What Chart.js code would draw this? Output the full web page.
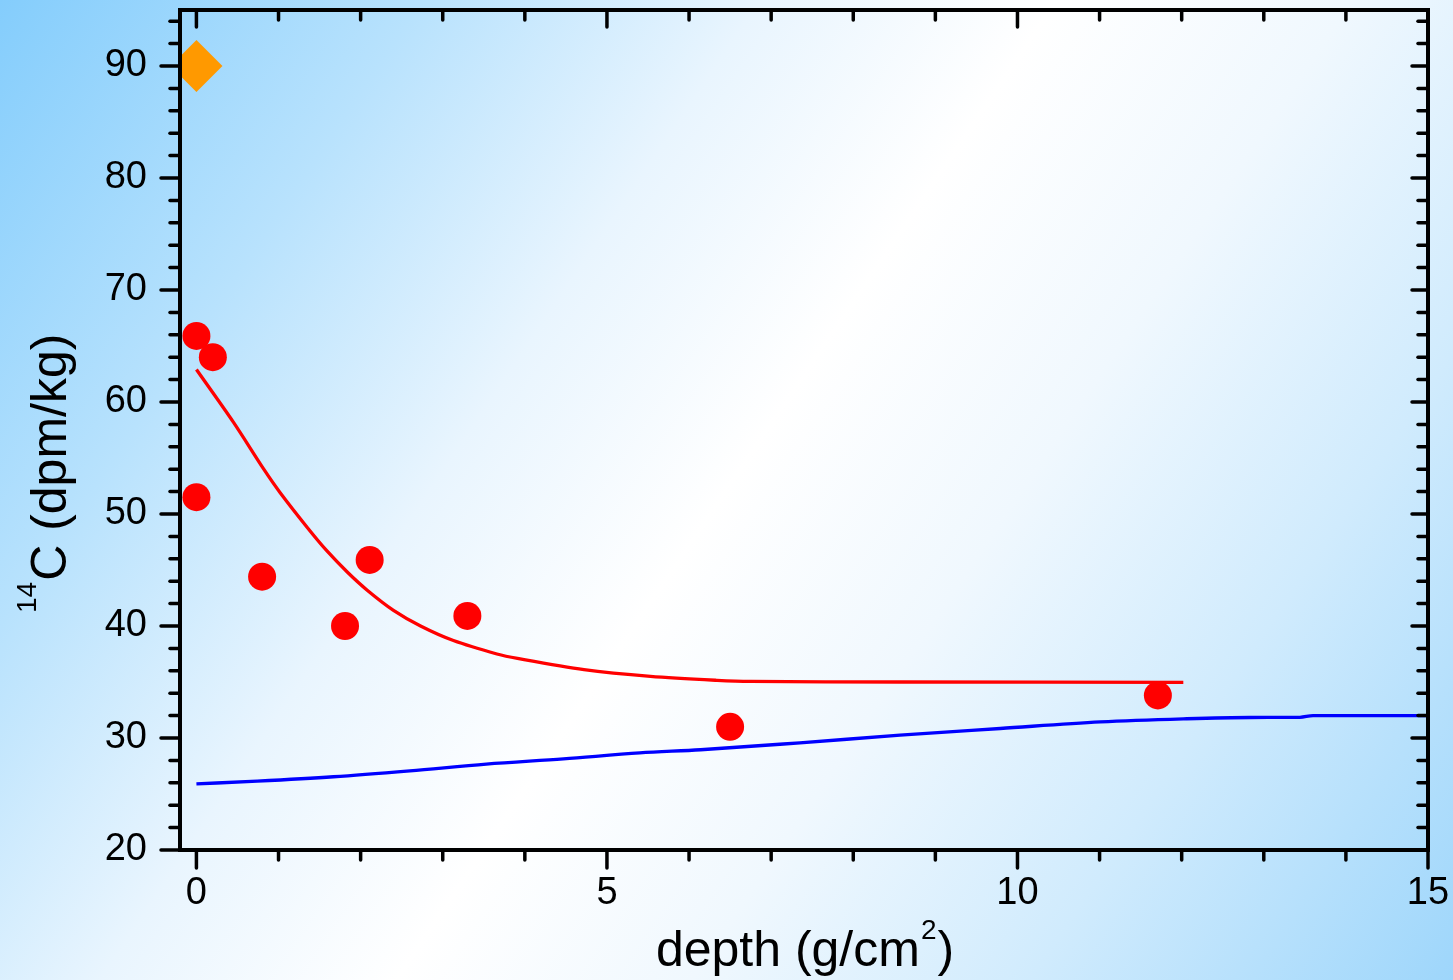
<!DOCTYPE html>
<html><head><meta charset="utf-8">
<script src="https://cdn.jsdelivr.net/npm/chart.js@4.4.0/dist/chart.umd.min.js"></script>
<style>html,body{margin:0;padding:0;overflow:hidden;background:#fff}</style>
</head><body>
<canvas id="c" width="1453" height="980" style="width:1453px;height:980px;display:block"></canvas>
<script>
// ---- data ----
const xTicks = [0, 5, 10, 15];
const yTicks = [20, 30, 40, 50, 60, 70, 80, 90];
const xMinorTicks = [1, 2, 3, 4, 6, 7, 8, 9, 11, 12, 13, 14];
const yMinorTicks = [22, 24, 26, 28, 32, 34, 36, 38, 42, 44, 46, 48, 52, 54, 56, 58, 62, 64, 66, 68, 72, 74, 76, 78, 82, 84, 86, 88, 92, 94];

const measDepth = [0, 0.2, 0, 0.8, 1.81, 2.11, 3.3, 6.5, 11.71];
const measC14   = [65.9, 64.0, 51.5, 44.4, 40.0, 45.9, 40.9, 31.0, 33.8];

const refDepth = [0];
const refC14   = [90];

const fitDepth = [0, 0.45, 0.82, 1.02, 1.35, 1.59, 1.84, 2.08, 2.40, 2.73, 3.13, 3.66, 3.91, 4.72, 5.53, 6.34, 6.75, 8.57, 12.02];
const fitC14   = [62.9, 58.2, 54.0, 51.9, 48.8, 46.7, 44.8, 43.2, 41.4, 40.0, 38.7, 37.5, 37.1, 36.1, 35.5, 35.15, 35.05, 35.0, 34.97];

const modelDepth = [0, 0.74, 1.67, 2.60, 3.53, 4.47, 5.40, 6.14, 7.35, 8.57, 9.79, 11.01, 12.02, 12.83, 13.44, 13.6, 15];
const modelC14   = [25.9, 26.15, 26.54, 27.07, 27.67, 28.14, 28.67, 28.95, 29.57, 30.25, 30.85, 31.44, 31.71, 31.83, 31.85, 32.0, 32.0];

const xTitleMain = 'depth (g/cm', xTitleSup = '2', xTitleEnd = ')';
const yTitleSup = '14', yTitleMain = 'C (dpm/kg)';

const FONT = '"Liberation Sans", Arial, Helvetica, sans-serif';

function pts(xs, ys) { return xs.map((x, i) => ({x: x, y: ys[i]})); }

const bgPlugin = {
  id: 'bg',
  beforeDraw(chart) {
    const ctx = chart.ctx, w = chart.width, h = chart.height;
    const g = ctx.createLinearGradient(0, 0, w, h);
    g.addColorStop(0, '#84cdfc');
    g.addColorStop(0.2, '#b8e2fd');
    g.addColorStop(0.36, '#e9f5fe');
    g.addColorStop(0.5, '#ffffff');
    g.addColorStop(0.64, '#f0f8fe');
    g.addColorStop(0.8, '#d0ebfd');
    g.addColorStop(1, '#9ed6fb');
    ctx.save();
    ctx.fillStyle = g;
    ctx.fillRect(0, 0, w, h);
    ctx.restore();
  }
};

const framePlugin = {
  id: 'frame',
  afterDraw(chart) {
    const ctx = chart.ctx, a = chart.chartArea;
    const xs = chart.scales.x, ys = chart.scales.y;
    ctx.save();
    ctx.strokeStyle = '#000';
    ctx.lineCap = 'round';
    ctx.lineWidth = 3.5;
    const line = (x1, y1, x2, y2) => { ctx.beginPath(); ctx.moveTo(x1, y1); ctx.lineTo(x2, y2); ctx.stroke(); };
    // x ticks
    xTicks.forEach(v => {
      const p = xs.getPixelForValue(v);
      line(p, a.bottom, p, a.bottom + 18);
      line(p, a.top, p, a.top + 17);
    });
    xMinorTicks.forEach(v => {
      const p = xs.getPixelForValue(v);
      line(p, a.bottom, p, a.bottom + 10);
      line(p, a.top, p, a.top + 10);
    });
    // y ticks
    yTicks.forEach(v => {
      const p = ys.getPixelForValue(v);
      line(a.left - 19, p, a.left, p);
      line(a.right - 16, p, a.right, p);
    });
    yMinorTicks.forEach(v => {
      const p = ys.getPixelForValue(v);
      line(a.left - 10, p, a.left, p);
      line(a.right - 10, p, a.right, p);
    });
    // frame
    ctx.lineCap = 'butt';
    ctx.lineJoin = 'miter';
    ctx.lineWidth = 4;
    ctx.strokeRect(a.left, a.top, a.right - a.left, a.bottom - a.top);

    // axis titles
    ctx.fillStyle = '#000';
    ctx.textBaseline = 'alphabetic';
    ctx.textAlign = 'left';
    const big = '50px ' + FONT, small = '28px ' + FONT;
    ctx.font = big; const w1 = ctx.measureText(xTitleMain).width; const w3 = ctx.measureText(xTitleEnd).width;
    ctx.font = small; const w2 = ctx.measureText(xTitleSup).width;
    let x0 = (a.left + a.right) / 2 - (w1 + w2 + w3) / 2;
    const base = 966;
    ctx.font = big; ctx.fillText(xTitleMain, x0, base);
    ctx.font = small; ctx.fillText(xTitleSup, x0 + w1 + 1, base - 27);
    ctx.font = big; ctx.fillText(xTitleEnd, x0 + w1 + w2 + 2, base);

    ctx.translate(65.5, 613);
    ctx.rotate(-Math.PI / 2);
    ctx.font = small; const s1 = ctx.measureText(yTitleSup).width;
    ctx.fillText(yTitleSup, 0, -30);
    ctx.font = big; ctx.fillText(yTitleMain, s1 + 1, 0);
    ctx.restore();
  }
};

new Chart(document.getElementById('c'), {
  type: 'scatter',
  data: {
    datasets: [
      { label: 'reference', data: pts(refDepth, refC14), pointStyle: 'rectRot', pointRadius: 26, pointHoverRadius: 26,
        backgroundColor: '#ff9900', borderWidth: 0, showLine: false },
      { label: 'measured', data: pts(measDepth, measC14), pointStyle: 'circle', pointRadius: 14, pointHoverRadius: 14,
        backgroundColor: '#ff0000', borderWidth: 0, showLine: false },
      { label: 'fit', data: pts(fitDepth, fitC14), showLine: true, borderColor: '#ff0000', borderWidth: 3.3,
        pointRadius: 0, pointHoverRadius: 0, fill: false, tension: 0.3 },
      { label: 'model', data: pts(modelDepth, modelC14), showLine: true, borderColor: '#0000ff', borderWidth: 3.3,
        pointRadius: 0, pointHoverRadius: 0, fill: false, cubicInterpolationMode: 'monotone' }
    ]
  },
  options: {
    responsive: false,
    animation: false,
    devicePixelRatio: 1,
    layout: { autoPadding: false, padding: { top: 10, right: 25, left: 0, bottom: 0 } },
    plugins: { legend: { display: false }, tooltip: { enabled: false }, title: { display: false } },
    scales: {
      x: {
        type: 'linear', min: -0.2, max: 15,
        afterBuildTicks: s => { s.ticks = xTicks.map(v => ({value: v})); },
        afterFit: s => { s.height = 130; s.paddingLeft = 0; s.paddingRight = 0; },
        ticks: { font: { size: 38, family: FONT }, color: '#000', padding: 21, maxRotation: 0, autoSkip: false },
        grid: { display: false, drawTicks: false },
        border: { display: false }
      },
      y: {
        type: 'linear', min: 20, max: 95,
        afterBuildTicks: s => { s.ticks = yTicks.map(v => ({value: v})); },
        afterFit: s => { s.width = 180; s.paddingTop = 0; s.paddingBottom = 0; },
        ticks: { font: { size: 38, family: FONT }, color: '#000', padding: 33, autoSkip: false },
        grid: { display: false, drawTicks: false },
        border: { display: false }
      }
    }
  },
  plugins: [bgPlugin, framePlugin]
});
</script>
</body></html>
